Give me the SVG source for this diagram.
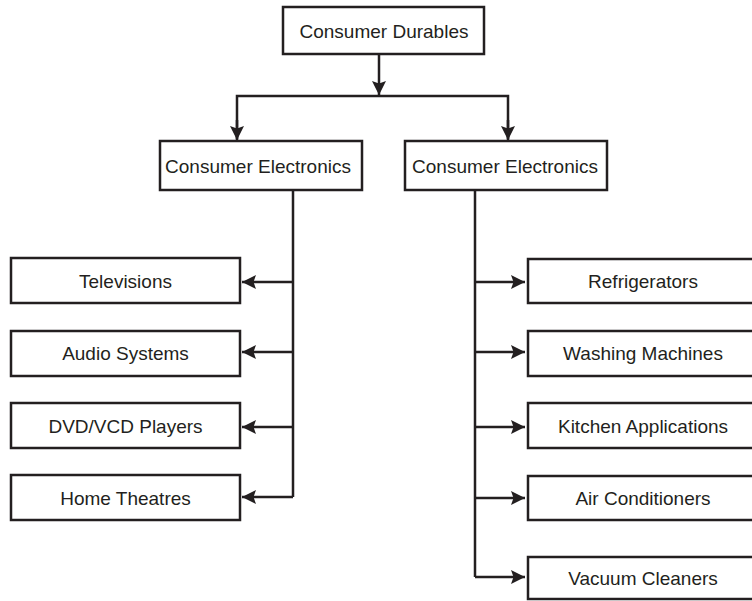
<svg xmlns="http://www.w3.org/2000/svg" width="752" height="601" viewBox="0 0 752 601">
<defs>
<style>
.box{fill:#fff;stroke:#231f20;stroke-width:2.5}
.t{font-family:"Liberation Sans",Arial,sans-serif;font-size:19px;fill:#231f20;text-anchor:middle;dominant-baseline:central}
.c{fill:none;stroke:#231f20;stroke-width:2.5}
</style>
<marker id="ah" viewBox="0 0 14 14" refX="14" refY="7" markerWidth="14" markerHeight="14" markerUnits="userSpaceOnUse" orient="auto">
<path d="M0,0 L14,7 L0,14 L2.5,7 Z" fill="#231f20"/>
</marker>
</defs>
<rect width="752" height="601" fill="#fff"/>
<g id="connectors">
<path class="c" d="M379,54 V95" marker-end="url(#ah)"/>
<path class="c" d="M237,139 V96 H508 V139"/>
<path class="c" d="M237,120 V140" marker-end="url(#ah)"/>
<path class="c" d="M508,120 V140" marker-end="url(#ah)"/>
<path class="c" d="M293,190 V497"/>
<path class="c" d="M293,282 H242" marker-end="url(#ah)"/>
<path class="c" d="M293,352 H242" marker-end="url(#ah)"/>
<path class="c" d="M293,427 H242" marker-end="url(#ah)"/>
<path class="c" d="M293,497 H242" marker-end="url(#ah)"/>
<path class="c" d="M475,190 V577"/>
<path class="c" d="M475,282 H525" marker-end="url(#ah)"/>
<path class="c" d="M475,352 H525" marker-end="url(#ah)"/>
<path class="c" d="M475,427 H525" marker-end="url(#ah)"/>
<path class="c" d="M475,498 H525" marker-end="url(#ah)"/>
<path class="c" d="M475,577 H525" marker-end="url(#ah)"/>
</g>
<g id="n-durables"><rect class="box" x="283" y="7" width="201" height="47"/><text class="t" x="384" y="31">Consumer Durables</text></g>
<g id="n-ce-left"><rect class="box" x="160" y="141" width="202" height="49"/><text class="t" x="258" y="166">Consumer Electronics</text></g>
<g id="n-ce-right"><rect class="box" x="405" y="141" width="202" height="49"/><text class="t" x="505" y="166">Consumer Electronics</text></g>
<g id="n-tv"><rect class="box" x="11" y="258" width="229" height="45"/><text class="t" x="125.5" y="281">Televisions</text></g>
<g id="n-audio"><rect class="box" x="11" y="331" width="229" height="45"/><text class="t" x="125.5" y="353">Audio Systems</text></g>
<g id="n-dvd"><rect class="box" x="11" y="403" width="229" height="45"/><text class="t" x="125.5" y="426">DVD/VCD Players</text></g>
<g id="n-home"><rect class="box" x="11" y="475" width="229" height="45"/><text class="t" x="125.5" y="498">Home Theatres</text></g>
<g id="n-fridge"><rect class="box" x="528" y="259" width="228" height="44"/><text class="t" x="643" y="281">Refrigerators</text></g>
<g id="n-wash"><rect class="box" x="528" y="331" width="228" height="45"/><text class="t" x="643" y="353">Washing Machines</text></g>
<g id="n-kitchen"><rect class="box" x="528" y="403" width="228" height="45"/><text class="t" x="643" y="426">Kitchen Applications</text></g>
<g id="n-ac"><rect class="box" x="528" y="476" width="228" height="44"/><text class="t" x="643" y="498">Air Conditioners</text></g>
<g id="n-vacuum"><rect class="box" x="528" y="557" width="228" height="42"/><text class="t" x="643" y="578">Vacuum Cleaners</text></g>
</svg>
